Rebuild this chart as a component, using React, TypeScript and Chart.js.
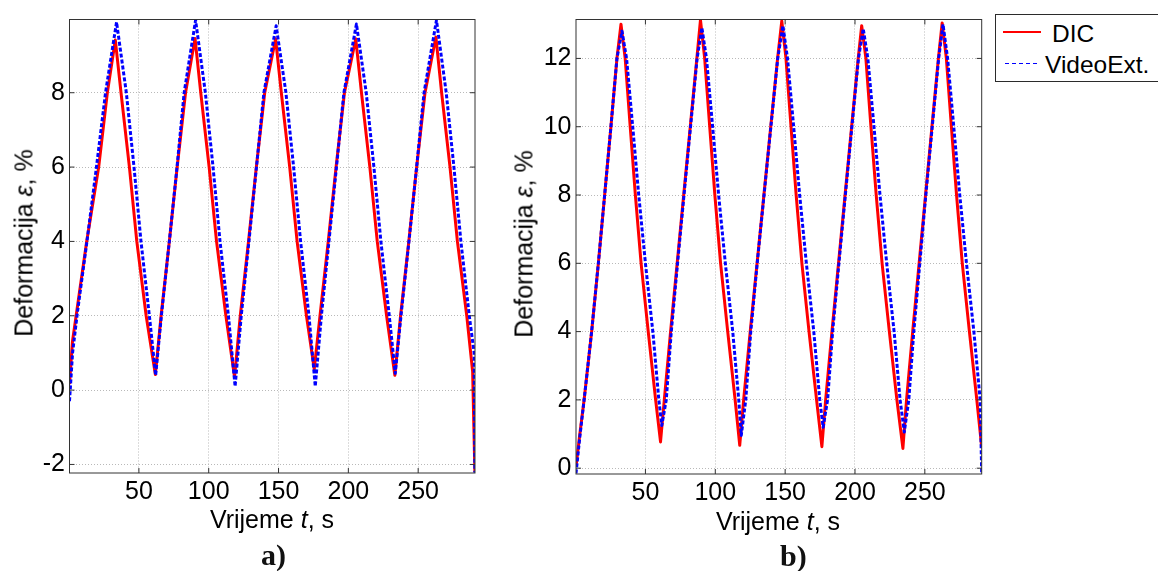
import React, { useEffect, useRef } from "react";
import { Chart, registerables } from "chart.js";

Chart.register(...registerables);

// ---------- data ----------
const SERIES_NAMES = ["DIC", "VideoExt."];
const Y_TITLE = "Deformacija";
const X_TITLE = "Vrijeme";
const PANEL_LABELS = ["a)", "b)"];

// panel a) time (s) and strain (%)
const A_DIC_T = [0.3, 2.4, 12.6, 21.2, 27.4, 33.1, 37.2, 43.2, 48.5, 55.2, 61.8, 65.9, 71.8, 77.4, 83.4, 90.2, 94.3, 100.3, 105.6, 112.3, 118.5, 122.6, 128.5, 134.1, 140.1, 147.9, 152, 158, 163.3, 170, 175.6, 179.7, 185.6, 191.2, 197.2, 205.3, 209.4, 215.4, 220.7, 227.4, 233.3, 237.4, 243.3, 248.9, 254.9, 262.7, 266.8, 272.8, 278.1, 284.8, 289, 290.6];
const A_DIC_E = [0.16, 1.3, 4, 6, 8, 9.42, 8, 6, 4, 2, 0.42, 2, 4, 6, 8, 9.46, 8, 6, 4, 2, 0.35, 2, 4, 6, 8, 9.45, 8, 6, 4, 2, 0.57, 2, 4, 6, 8, 9.45, 8, 6, 4, 2, 0.4, 2, 4, 6, 8, 9.5, 8, 6, 4, 2, 0.5, -2.2];
const A_VID_T = [0.3, 2.5, 6, 12.8, 19.6, 26.1, 34, 41, 46.5, 51.5, 57.5, 62, 66.1, 71.8, 77.3, 82.4, 90.6, 97.6, 103.1, 108.1, 114.1, 118.9, 123.3, 128.8, 134.2, 139.5, 148.3, 155.3, 160.8, 165.8, 171.8, 176.3, 180.7, 186.1, 191.5, 196.8, 205.8, 212.8, 218.3, 223.3, 229.3, 233.6, 237.7, 243.4, 248.9, 254.2, 263.1, 270.1, 275.6, 280.6, 286.6, 290.1, 290.6];
const A_VID_E = [-0.3, 1.0, 2.1, 4, 6, 8, 9.9, 8, 6, 4, 2, 0.4, 2, 4, 6, 8, 9.95, 8, 6, 4, 2, 0.1, 2, 4, 6, 8, 9.8, 8, 6, 4, 2, 0.1, 2, 4, 6, 8, 9.85, 8, 6, 4, 2, 0.45, 2, 4, 6, 8, 9.95, 8, 6, 4, 2, 1.0, -2.22];

// panel b)
const B_DIC_T = [0.3, 2.9, 6.1, 11.5, 16.3, 20.8, 25.3, 29.6, 32.5, 35.5, 39.1, 42.8, 46.9, 52, 57.3, 60.8, 63.5, 68, 72.7, 77.4, 82.1, 86.8, 89.4, 92.4, 96, 99.7, 103.8, 108.9, 114.2, 117.5, 120.3, 125, 129.9, 134.8, 139.7, 144.6, 147.6, 150.6, 154.2, 157.9, 162, 167.1, 172.5, 176.3, 179, 183.5, 188.2, 192.9, 197.6, 202.3, 204.8, 207.8, 211.4, 215.2, 219.4, 224.6, 230, 234.3, 236.9, 241.3, 245.9, 250.5, 255.1, 259.7, 262.4, 265.4, 269, 272.7, 276.8, 281.9, 287.2, 290.7];
const B_DIC_E = [0.05, 0.95, 2, 4, 6, 8, 10, 12, 13.0, 12, 10, 8, 6, 4, 2, 0.77, 2, 4, 6, 8, 10, 12, 13.13, 12, 10, 8, 6, 4, 2, 0.67, 2, 4, 6, 8, 10, 12, 13.1, 12, 10, 8, 6, 4, 2, 0.63, 2, 4, 6, 8, 10, 12, 12.96, 12, 10, 8, 6, 4, 2, 0.58, 2, 4, 6, 8, 10, 12, 13.04, 12, 10, 8, 6, 4, 2, 0.62];
const B_VID_T = [0.3, 3, 6.1, 11.5, 16.3, 20.8, 25.3, 29.6, 33.2, 36.5, 40.9, 45.2, 50, 55.3, 59.6, 61.7, 64.9, 68.5, 73, 77.6, 82.3, 87, 90.4, 93.7, 98.1, 102.4, 107.2, 112.5, 116.8, 118.6, 121.8, 125.4, 130, 134.9, 139.8, 144.7, 148.4, 151.7, 156.1, 160.4, 165.2, 170.5, 174.8, 177.2, 180.4, 184, 188.5, 193.1, 197.8, 202.5, 205.9, 209.2, 213.6, 217.9, 222.7, 228, 232.3, 235.3, 238.5, 242.1, 246.4, 250.7, 255.3, 259.9, 263, 266.3, 270.7, 275, 279.8, 285.1, 289.6, 290.7];
const B_VID_E = [-0.15, 0.9, 2, 4, 6, 8, 10, 12, 12.8, 12, 10, 8, 6, 4, 2, 1.25, 2, 4, 6, 8, 10, 12, 12.9, 12, 10, 8, 6, 4, 2, 0.96, 2, 4, 6, 8, 10, 12, 12.96, 12, 10, 8, 6, 4, 2, 1.2, 2, 4, 6, 8, 10, 12, 12.87, 12, 10, 8, 6, 4, 2, 1.06, 2, 4, 6, 8, 10, 12, 13.0, 12, 10, 8, 6, 4, 2, -0.15];

// axis ranges and tick steps
const X_RANGE = [0.3, 290.7];
const X_STEP = 50;
const A_Y_RANGE = [-2.23, 9.97];
const B_Y_RANGE = [-0.17, 13.14];
const Y_STEP = 2;

// ---------- styling ----------
const FONT = "'Liberation Sans', Arial, Helvetica, sans-serif";
const SERIF = "'Liberation Serif', 'Times New Roman', serif";
const RED = "#ff0000";
const BLUE = "#0000ff";
const GRID = "#b9b9b9";

const framePlugin = {
  id: "matlabFrame",
  afterDraw(chart: any) {
    const { ctx, chartArea: a, scales } = chart;
    ctx.save();
    ctx.strokeStyle = "#333333";
    ctx.lineWidth = 1;
    ctx.strokeRect(a.left, a.top, a.right - a.left, a.bottom - a.top);
    const L = 5;
    ctx.beginPath();
    scales.x.ticks.forEach((t: any) => {
      const px = scales.x.getPixelForValue(t.value);
      ctx.moveTo(px, a.bottom);
      ctx.lineTo(px, a.bottom - L);
      ctx.moveTo(px, a.top);
      ctx.lineTo(px, a.top + L);
    });
    scales.y.ticks.forEach((t: any) => {
      const py = scales.y.getPixelForValue(t.value);
      ctx.moveTo(a.left, py);
      ctx.lineTo(a.left + L, py);
      ctx.moveTo(a.right, py);
      ctx.lineTo(a.right - L, py);
    });
    ctx.stroke();
    ctx.restore();
  },
};

type PanelProps = {
  left: number;
  width: number;
  height: number;
  yAxisWidth: number;
  xAxisHeight: number;
  padTop: number;
  padRight: number;
  dicT: number[];
  dicE: number[];
  vidT: number[];
  vidE: number[];
  yRange: number[];
};

function zip(t: number[], e: number[]) {
  return t.map((x, i) => ({ x, y: e[i] }));
}

function Panel(p: PanelProps) {
  const ref = useRef<HTMLCanvasElement>(null);
  useEffect(() => {
    if (!ref.current) return;
    const tickFont = { family: FONT, size: 25 };
    const chart = new Chart(ref.current, {
      type: "line",
      data: {
        datasets: [
          {
            label: SERIES_NAMES[0],
            data: zip(p.dicT, p.dicE),
            borderColor: RED,
            backgroundColor: RED,
            borderWidth: 3,
            pointRadius: 0,
            tension: 0,
            fill: false,
            borderJoinStyle: "round",
            order: 2,
          },
          {
            label: SERIES_NAMES[1],
            data: zip(p.vidT, p.vidE),
            borderColor: BLUE,
            backgroundColor: BLUE,
            borderWidth: 3,
            borderDash: [4, 2],
            pointRadius: 0,
            tension: 0,
            fill: false,
            borderJoinStyle: "round",
            order: 1,
          },
        ],
      },
      options: {
        responsive: false,
        animation: false,
        events: [],
        layout: { padding: { left: 0, right: p.padRight, top: p.padTop, bottom: 0 } },
        plugins: { legend: { display: false }, tooltip: { enabled: false }, title: { display: false } },
        scales: {
          x: {
            type: "linear",
            min: X_RANGE[0],
            max: X_RANGE[1],
            afterFit: (s: any) => {
              s.height = p.xAxisHeight;
            },
            ticks: {
              stepSize: X_STEP,
              includeBounds: false,
              color: "#000",
              font: tickFont,
              padding: 4.5,
              maxRotation: 0,
              autoSkip: false,
            },
            grid: { color: GRID, lineWidth: 1, drawTicks: false },
            border: { display: false, dash: [1, 2] },
          },
          y: {
            type: "linear",
            min: p.yRange[0],
            max: p.yRange[1],
            afterFit: (s: any) => {
              s.width = p.yAxisWidth;
            },
            ticks: {
              stepSize: Y_STEP,
              includeBounds: false,
              color: "#000",
              font: tickFont,
              padding: 4.5,
              autoSkip: false,
            },
            grid: { color: GRID, lineWidth: 1, drawTicks: false },
            border: { display: false, dash: [1, 2] },
          },
        },
      },
      plugins: [framePlugin],
    } as any);
    return () => chart.destroy();
  }, []);
  return (
    <canvas
      ref={ref}
      width={p.width}
      height={p.height}
      style={{ position: "absolute", left: p.left, top: 0, width: p.width, height: p.height, display: "block" }}
    />
  );
}

const txt: React.CSSProperties = {
  position: "absolute",
  fontFamily: FONT,
  fontSize: 25,
  lineHeight: "25px",
  color: "#000",
  whiteSpace: "nowrap",
};

export default function App() {
  return (
    <div
      style={{
        position: "fixed",
        left: 0,
        top: 0,
        width: 1158,
        height: 571,
        overflow: "hidden",
        background: "#fff",
      }}
    >
      <Panel
        left={0}
        width={500}
        height={571}
        yAxisWidth={69.5}
        xAxisHeight={98}
        padTop={13.3}
        padRight={25}
        dicT={A_DIC_T}
        dicE={A_DIC_E}
        vidT={A_VID_T}
        vidE={A_VID_E}
        yRange={A_Y_RANGE}
      />
      <Panel
        left={500}
        width={500}
        height={571}
        yAxisWidth={76}
        xAxisHeight={97}
        padTop={14.7}
        padRight={18.3}
        dicT={B_DIC_T}
        dicE={B_DIC_E}
        vidT={B_VID_T}
        vidE={B_VID_E}
        yRange={B_Y_RANGE}
      />

      {/* y-axis titles */}
      <div style={{ ...txt, left: 24, top: 243, transform: "translate(-50%, -50%) rotate(-90deg)" }}>
        {Y_TITLE} <i>ε</i>, %
      </div>
      <div style={{ ...txt, left: 524, top: 244, transform: "translate(-50%, -50%) rotate(-90deg)" }}>
        {Y_TITLE} <i>ε</i>, %
      </div>

      {/* x-axis titles */}
      <div style={{ ...txt, left: 272, top: 507, transform: "translateX(-50%)" }}>
        {X_TITLE} <i>t</i>, s
      </div>
      <div style={{ ...txt, left: 778, top: 508.5, transform: "translateX(-50%)" }}>
        {X_TITLE} <i>t</i>, s
      </div>

      {/* panel labels */}
      <div style={{ position: "absolute", left: 261, top: 540, fontFamily: SERIF, fontWeight: "bold", fontSize: 30, lineHeight: "30px", color: "#111" }}>
        {PANEL_LABELS[0]}
      </div>
      <div style={{ position: "absolute", left: 780, top: 541, fontFamily: SERIF, fontWeight: "bold", fontSize: 30, lineHeight: "30px", color: "#111" }}>
        {PANEL_LABELS[1]}
      </div>

      {/* legend */}
      <div
        style={{
          position: "absolute",
          left: 995,
          top: 14,
          width: 175,
          height: 68,
          border: "1px solid #2b2b2b",
          background: "#fff",
          boxSizing: "border-box",
        }}
      />
      <div style={{ position: "absolute", left: 1003, top: 30.5, width: 38, height: 2.5, background: RED }} />
      <div style={{ ...txt, fontSize: 24.5, left: 1052, top: 20.7 }}>{SERIES_NAMES[0]}</div>
      <div
        style={{
          position: "absolute",
          left: 1005,
          top: 63,
          width: 35,
          height: 1,
          background: `repeating-linear-gradient(to right, ${BLUE} 0px, ${BLUE} 4px, transparent 4px, transparent 7px)`,
        }}
      />
      <div style={{ ...txt, fontSize: 24.5, left: 1045, top: 51.7 }}>{SERIES_NAMES[1]}</div>
    </div>
  );
}
